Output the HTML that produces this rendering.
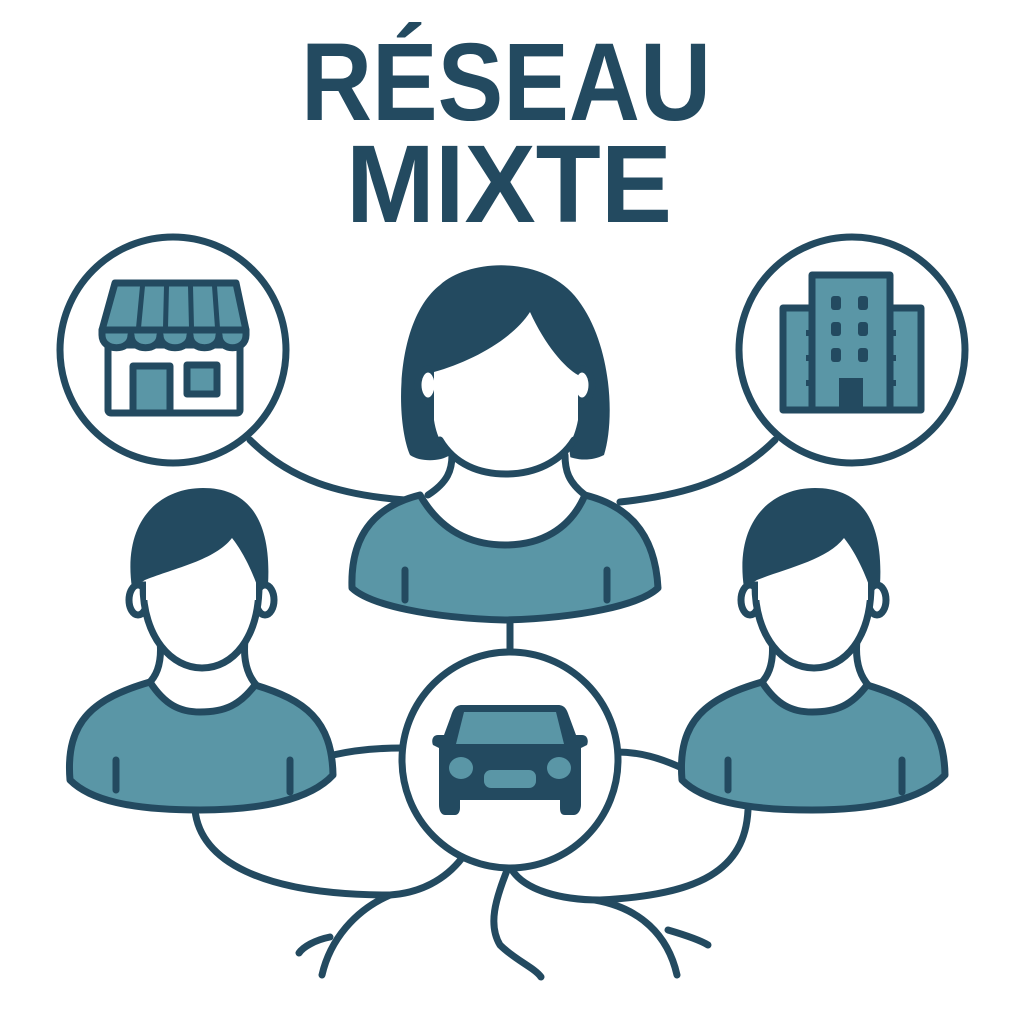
<!DOCTYPE html>
<html><head><meta charset="utf-8"><style>html,body{margin:0;padding:0;background:#fff}svg{display:block}</style></head>
<body>
<svg width="1024" height="1024" viewBox="0 0 1024 1024" xmlns="http://www.w3.org/2000/svg">
<defs><style>.d{fill:#234a60}.t{fill:#5a96a6;stroke:#234a60;stroke-width:7;stroke-linejoin:round}.w{fill:#fff;stroke:#234a60;stroke-width:7;stroke-linejoin:round}.l{fill:none;stroke:#234a60;stroke-width:7;stroke-linecap:round}</style></defs>
<text x="506" y="120" text-anchor="middle" font-family="Liberation Sans, sans-serif" font-weight="bold" font-size="110" fill="#234a60" textLength="410" lengthAdjust="spacingAndGlyphs">RÉSEAU</text>
<text x="509" y="222" text-anchor="middle" font-family="Liberation Sans, sans-serif" font-weight="bold" font-size="110" fill="#234a60" textLength="326" lengthAdjust="spacingAndGlyphs">MIXTE</text>

<!-- connectors -->
<path class="l" d="M250,440 C290,480 340,495 405,500"/>
<path class="l" d="M775,440 C735,480 685,495 620,502"/>
<path class="l" d="M510,618 L510,655"/>
<path class="l" d="M333,755 C355,750 380,748 402,748"/>
<path class="l" d="M617,752 C640,752 660,758 682,768"/>
<path class="l" d="M195,810 C200,860 260,895 390,895 C420,893 445,880 462,858"/>
<path class="l" d="M390,895 C355,910 330,940 322,975"/>
<path class="l" d="M330,937 C315,940 303,947 299,953"/>
<path class="l" d="M508,868 C495,900 488,925 500,945 C515,960 535,968 541,977"/>
<path class="l" d="M748,810 C745,870 700,895 600,900 C560,900 525,890 512,870"/>
<path class="l" d="M595,900 C640,908 668,935 677,975"/>
<path class="l" d="M668,930 C685,935 700,940 708,945"/>

<!-- side circles -->
<circle cx="173" cy="350" r="113" fill="#fff" stroke="#234a60" stroke-width="7"/>
<circle cx="852" cy="350" r="113" fill="#fff" stroke="#234a60" stroke-width="7"/>
<!-- shop -->
<rect x="108" y="345" width="132" height="68" class="w" rx="3"/>
<rect x="133" y="366" width="37" height="47" class="t"/>
<rect x="187" y="365" width="30" height="29" class="t"/>
<path class="t" d="M115,283 L236,283 L246,330 L102,330 Z"/>
<path class="d" d="M140,286 l5,0 l-4,42 l-5,0Z M164,286 l5,0 l-1,42 l-5,0Z M188,286 l5,0 l1,42 l-5,0Z M212,286 l5,0 l3,42 l-5,0Z"/>
<path class="t" d="M102,330 L246,330 L246,335 C246,352 219,352 219,335 C219,352 190,352 190,335 C190,352 160,352 160,335 C160,352 131,352 131,335 C131,352 102,352 102,335 Z"/>
<!-- building -->
<rect x="783" y="308" width="138" height="102" class="t"/>
<rect x="812" y="275" width="78" height="135" class="t"/>
<g class="d"><rect x="831" y="296" width="10" height="14" rx="3"/><rect x="858" y="296" width="10" height="14" rx="3"/><rect x="831" y="322" width="10" height="14" rx="3"/><rect x="858" y="322" width="10" height="14" rx="3"/><rect x="831" y="348" width="10" height="14" rx="3"/><rect x="858" y="348" width="10" height="14" rx="3"/><rect x="839" y="378" width="24" height="32"/>
<rect x="806" y="330" width="6" height="6"/><rect x="806" y="355" width="6" height="6"/><rect x="806" y="380" width="6" height="6"/><rect x="890" y="330" width="6" height="6"/><rect x="890" y="355" width="6" height="6"/><rect x="890" y="380" width="6" height="6"/></g>

<!-- woman -->
<path class="d" d="M410,455 C395,420 395,320 440,285 C470,258 545,255 578,300 C612,345 615,420 604,455 C590,462 575,460 565,455 L450,455 C440,462 420,462 410,455 Z"/>
<path fill="#fff" d="M450,440 L448,492 L575,492 L568,440 Z"/>
<path class="l" d="M452,455 C452,470 448,482 428,495 M565,455 C565,470 568,482 585,495"/>
<ellipse cx="428" cy="385" rx="10" ry="16" class="w"/><ellipse cx="582" cy="385" rx="10" ry="16" class="w"/>
<path fill="#fff" d="M434,372 C470,362 512,340 530,312 C545,345 565,368 578,375 L578,420 C570,463 540,472 506,472 C470,472 440,460 434,420 Z"/>
<path class="l" d="M440,440 C455,465 480,474 506,474 C535,474 560,462 574,440"/>
<path class="t" d="M352,588 C350,530 380,505 420,495 C440,530 470,545 505,545 C540,545 570,530 585,495 C625,505 655,530 658,588 C640,605 580,618 505,620 C430,618 370,605 352,588 Z"/>
<path class="l" d="M405,570 L405,600 M607,570 L607,600"/>

<!-- left man -->
<g id="man">
<path fill="#fff" d="M160,630 L155,688 L250,688 L245,630 Z"/>
<path class="l" d="M160,640 C162,660 158,675 148,684 M245,640 C243,660 247,675 257,686"/>
<ellipse cx="138" cy="600" rx="9" ry="15" class="w"/><ellipse cx="265" cy="600" rx="9" ry="15" class="w"/>
<path class="w" d="M143,585 C143,638 172,668 202,668 C233,668 259,638 259,585 Z"/>
<path fill="#fff" d="M146,575 L256,575 L256,600 L146,600 Z"/>
<path class="d" d="M132,588 C122,520 160,488 203,488 C245,488 272,515 268,585 L258,588 C250,565 240,548 232,538 C215,560 175,568 145,580 Z"/>
<path class="t" d="M70,780 C65,720 95,698 150,682 C165,705 180,712 200,712 C225,712 240,705 255,685 C305,700 332,720 333,775 C310,800 260,810 200,810 C130,810 90,800 70,780 Z"/>
<path class="l" d="M116,760 L116,790 M290,760 L290,792"/>
</g>
<use href="#man" transform="translate(612,0)"/>

<!-- car circle -->
<circle cx="510" cy="760" r="108" fill="#fff" stroke="#234a60" stroke-width="7"/>
<path class="d" d="M462,705 L558,705 C565,705 567,710 569,716 L576,735 L582,735 C587,735 589,740 587,745 L581,748 L581,805 C581,810 578,815 574,815 L565,815 C561,815 560,812 560,808 L560,800 L460,800 L460,808 C460,812 458,815 455,815 L445,815 C441,815 439,810 439,805 L439,748 L433,745 C431,740 433,735 438,735 L444,735 L451,716 C453,710 455,705 462,705 Z"/>
<path fill="#5a96a6" d="M464,712 L556,712 L564,744 L456,744 Z"/>
<ellipse cx="461" cy="768" rx="12" ry="11" fill="#5a96a6"/><ellipse cx="559" cy="768" rx="12" ry="11" fill="#5a96a6"/>
<rect x="484" y="770" width="52" height="18" rx="7" fill="#5a96a6"/>
</svg>
</body></html>
